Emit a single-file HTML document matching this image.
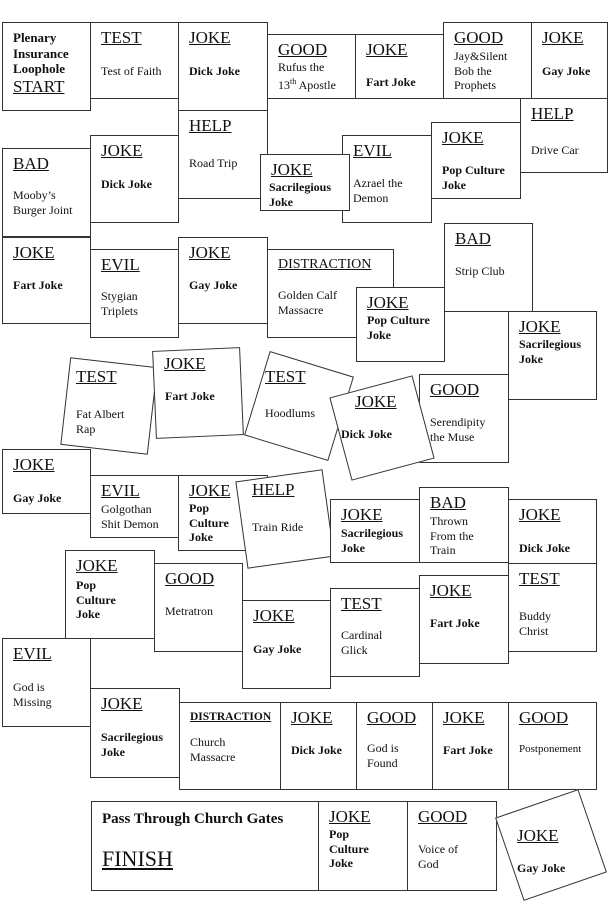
<!DOCTYPE html>
<html><head><meta charset="utf-8"><style>
*{box-sizing:border-box;margin:0;padding:0}
body{width:610px;height:917px;background:#fff;position:relative;overflow:hidden;font-family:"Liberation Serif",serif;color:#111}
.b{position:absolute;border:1.5px solid #333;background:#fff}
.l{position:absolute;left:10px;top:5px;font-size:17px;text-decoration:underline;line-height:20px;white-space:nowrap}
.t{position:absolute;left:10px;font-size:12px;line-height:14.5px;white-space:nowrap}
.k{font-weight:bold}
.a{position:absolute;white-space:nowrap}
.al{font-size:17px;text-decoration:underline;line-height:20px}
.at{font-size:12px;line-height:14.5px}
</style></head><body>
<!-- Row 1 -->
<div class="b" style="left:2px;top:22px;width:89px;height:89px"><div class="t k" style="top:7px;font-size:13px;line-height:15.5px">Plenary<br>Insurance<br>Loophole</div><div class="l" style="top:54px">START</div></div>
<div class="b" style="left:90px;top:22px;width:89px;height:77px"><div class="l">TEST</div><div class="t" style="top:41px">Test of Faith</div></div>
<div class="b" style="left:178px;top:22px;width:90px;height:89px"><div class="l">JOKE</div><div class="t k" style="top:41px">Dick Joke</div></div>
<div class="b" style="left:267px;top:34px;width:89px;height:65px"><div class="l">GOOD</div><div class="t" style="top:25px">Rufus the<br>13<sup style="font-size:8px">th</sup> Apostle</div></div>
<div class="b" style="left:355px;top:34px;width:89px;height:65px"><div class="l">JOKE</div><div class="t k" style="top:40px">Fart Joke</div></div>
<div class="b" style="left:443px;top:22px;width:89px;height:77px"><div class="l">GOOD</div><div class="t" style="top:26px">Jay&amp;Silent<br>Bob the<br>Prophets</div></div>
<div class="b" style="left:531px;top:22px;width:77px;height:77px"><div class="l">JOKE</div><div class="t k" style="top:41px">Gay Joke</div></div>
<!-- Row 2 -->
<div class="b" style="left:520px;top:98px;width:88px;height:75px"><div class="l">HELP</div><div class="t" style="top:44px">Drive Car</div></div>
<div class="b" style="left:431px;top:122px;width:90px;height:77px"><div class="l">JOKE</div><div class="t k" style="top:40px">Pop Culture<br>Joke</div></div>
<div class="b" style="left:342px;top:135px;width:90px;height:88px"><div class="l">EVIL</div><div class="t" style="top:40px">Azrael the<br>Demon</div></div>
<div class="b" style="left:178px;top:110px;width:90px;height:89px"><div class="l">HELP</div><div class="t" style="top:45px">Road Trip</div></div>
<div class="b" style="left:260px;top:154px;width:90px;height:57px"><div class="l">JOKE</div><div class="t k" style="top:25px;left:8px">Sacrilegious<br>Joke</div></div>
<div class="b" style="left:90px;top:135px;width:89px;height:88px"><div class="l">JOKE</div><div class="t k" style="top:41px">Dick Joke</div></div>
<div class="b" style="left:2px;top:148px;width:89px;height:89px"><div class="l">BAD</div><div class="t" style="top:39px">Mooby’s<br>Burger Joint</div></div>
<!-- Row 3 -->
<div class="b" style="left:2px;top:237px;width:89px;height:87px"><div class="l">JOKE</div><div class="t k" style="top:40px">Fart Joke</div></div>
<div class="b" style="left:90px;top:249px;width:89px;height:89px"><div class="l">EVIL</div><div class="t" style="top:39px">Stygian<br>Triplets</div></div>
<div class="b" style="left:178px;top:237px;width:90px;height:87px"><div class="l">JOKE</div><div class="t k" style="top:40px">Gay Joke</div></div>
<div class="b" style="left:267px;top:249px;width:127px;height:89px"><div class="l" style="font-size:14px">DISTRACTION</div><div class="t" style="top:38px">Golden Calf<br>Massacre</div></div>
<div class="b" style="left:444px;top:223px;width:89px;height:89px"><div class="l">BAD</div><div class="t" style="top:40px">Strip Club</div></div>
<div class="b" style="left:356px;top:287px;width:89px;height:75px"><div class="l">JOKE</div><div class="t k" style="top:25px">Pop Culture<br>Joke</div></div>
<div class="b" style="left:508px;top:311px;width:89px;height:89px"><div class="l">JOKE</div><div class="t k" style="top:25px">Sacrilegious<br>Joke</div></div>
<div class="b" style="left:419px;top:374px;width:90px;height:89px"><div class="l">GOOD</div><div class="t" style="top:40px">Serendipity<br>the Muse</div></div>
<!-- Rotated row -->
<div class="b" style="left:65px;top:362px;width:88px;height:88px;transform:rotate(6.5deg)"></div>
<div class="a al" style="left:76px;top:367px">TEST</div><div class="a at" style="left:76px;top:407px">Fat Albert<br>Rap</div>
<div class="b" style="left:154px;top:349px;width:88px;height:88px;transform:rotate(-2.5deg)"></div>
<div class="a al" style="left:164px;top:354px">JOKE</div><div class="a at k" style="left:165px;top:389px">Fart Joke</div>
<div class="b" style="left:255px;top:362px;width:88px;height:88px;transform:rotate(17deg)"></div>
<div class="a al" style="left:265px;top:367px">TEST</div><div class="a at" style="left:265px;top:406px">Hoodlums</div>
<div class="b" style="left:339px;top:385px;width:86px;height:86px;transform:rotate(-15deg)"></div>
<div class="a al" style="left:355px;top:392px">JOKE</div><div class="a at k" style="left:341px;top:427px">Dick Joke</div>
<!-- Row 5 -->
<div class="b" style="left:2px;top:449px;width:89px;height:65px"><div class="l">JOKE</div><div class="t k" style="top:41px">Gay Joke</div></div>
<div class="b" style="left:90px;top:475px;width:89px;height:63px"><div class="l">EVIL</div><div class="t" style="top:26px">Golgothan<br>Shit Demon</div></div>
<div class="b" style="left:178px;top:475px;width:90px;height:76px"><div class="l">JOKE</div><div class="t k" style="top:25px">Pop<br>Culture<br>Joke</div></div>
<div class="b" style="left:241px;top:475px;width:88px;height:88px;transform:rotate(-8deg)"></div>
<div class="a al" style="left:252px;top:480px">HELP</div><div class="a at" style="left:252px;top:520px">Train Ride</div>
<div class="b" style="left:330px;top:499px;width:90px;height:64px"><div class="l">JOKE</div><div class="t k" style="top:26px">Sacrilegious<br>Joke</div></div>
<div class="b" style="left:419px;top:487px;width:90px;height:76px"><div class="l">BAD</div><div class="t" style="top:26px">Thrown<br>From the<br>Train</div></div>
<div class="b" style="left:508px;top:499px;width:89px;height:65px"><div class="l">JOKE</div><div class="t k" style="top:41px">Dick Joke</div></div>
<div class="b" style="left:508px;top:563px;width:89px;height:89px"><div class="l">TEST</div><div class="t" style="top:45px">Buddy<br>Christ</div></div>
<div class="b" style="left:419px;top:575px;width:90px;height:89px"><div class="l">JOKE</div><div class="t k" style="top:40px">Fart Joke</div></div>
<div class="b" style="left:330px;top:588px;width:90px;height:89px"><div class="l">TEST</div><div class="t" style="top:39px">Cardinal<br>Glick</div></div>
<div class="b" style="left:242px;top:600px;width:89px;height:89px"><div class="l">JOKE</div><div class="t k" style="top:41px">Gay Joke</div></div>
<div class="b" style="left:154px;top:563px;width:89px;height:89px"><div class="l">GOOD</div><div class="t" style="top:40px">Metratron</div></div>
<div class="b" style="left:65px;top:550px;width:90px;height:89px"><div class="l">JOKE</div><div class="t k" style="top:27px">Pop<br>Culture<br>Joke</div></div>
<div class="b" style="left:2px;top:638px;width:89px;height:89px"><div class="l">EVIL</div><div class="t" style="top:41px">God is<br>Missing</div></div>
<!-- Row 7 -->
<div class="b" style="left:90px;top:688px;width:90px;height:90px"><div class="l">JOKE</div><div class="t k" style="top:41px">Sacrilegious<br>Joke</div></div>
<div class="b" style="left:179px;top:702px;width:102px;height:88px"><div class="l k" style="font-size:11.5px;top:4px">DISTRACTION</div><div class="t" style="top:32px">Church<br>Massacre</div></div>
<div class="b" style="left:280px;top:702px;width:77px;height:88px"><div class="l">JOKE</div><div class="t k" style="top:40px">Dick Joke</div></div>
<div class="b" style="left:356px;top:702px;width:77px;height:88px"><div class="l">GOOD</div><div class="t" style="top:38px">God is<br>Found</div></div>
<div class="b" style="left:432px;top:702px;width:77px;height:88px"><div class="l">JOKE</div><div class="t k" style="top:40px">Fart Joke</div></div>
<div class="b" style="left:508px;top:702px;width:89px;height:88px"><div class="l">GOOD</div><div class="t" style="top:39px;font-size:11px">Postponement</div></div>
<!-- Bottom -->
<div class="b" style="left:91px;top:801px;width:228px;height:90px"><div class="t k" style="top:8px;font-size:15px;line-height:18px">Pass Through Church Gates</div><div class="l" style="top:44px;font-size:22px;line-height:26px">FINISH</div></div>
<div class="b" style="left:318px;top:801px;width:90px;height:90px"><div class="l">JOKE</div><div class="t k" style="top:25px">Pop<br>Culture<br>Joke</div></div>
<div class="b" style="left:407px;top:801px;width:90px;height:90px"><div class="l">GOOD</div><div class="t" style="top:40px">Voice of<br>God</div></div>
<div class="b" style="left:507px;top:801px;width:88px;height:88px;transform:rotate(-19deg)"></div>
<div class="a al" style="left:517px;top:826px">JOKE</div><div class="a at k" style="left:517px;top:861px">Gay Joke</div>
</body></html>
